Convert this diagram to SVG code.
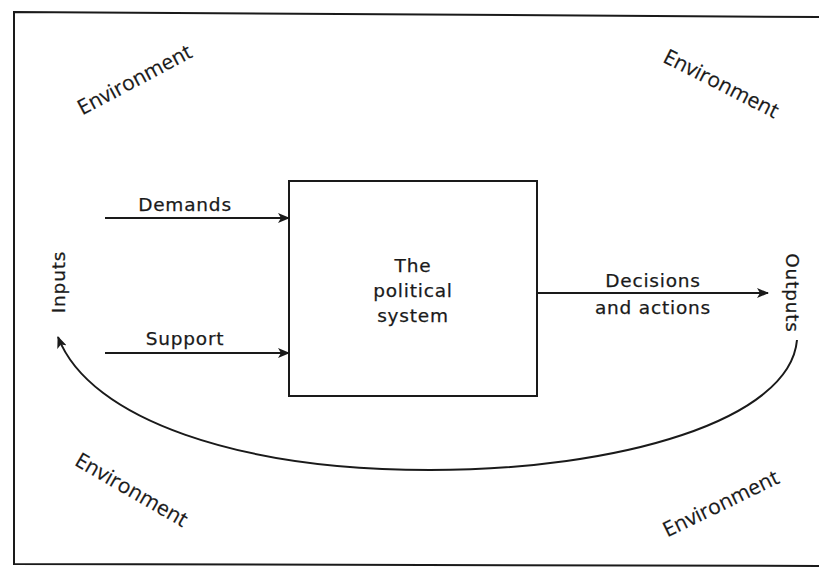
<svg xmlns="http://www.w3.org/2000/svg" width="819" height="570" viewBox="0 0 819 570">
  <style>
    .lbl { font-family: "DejaVu Sans", "Liberation Sans", sans-serif; font-size: 18.5px; fill: #1a1a1a; letter-spacing: 0.8px; stroke: #1a1a1a; stroke-width: 0.25px; }
    .env { font-family: "Open Sans", "Liberation Sans", sans-serif; font-size: 21px; fill: #1a1a1a; stroke: #1a1a1a; stroke-width: 0.2px; }
    .line { stroke: #1a1a1a; stroke-width: 2; fill: none; }
  </style>
  <defs>
    <marker id="arrow" viewBox="0 0 12 10" refX="11" refY="5" markerWidth="12" markerHeight="10" markerUnits="userSpaceOnUse" orient="auto">
      <path d="M0,0 L12,5 L0,10 L3,5 Z" fill="#1a1a1a"/>
    </marker>
  </defs>
  <rect width="819" height="570" fill="#fff"/>

  <!-- outer environment frame (open on the right) -->
  <g id="frame">
    <path class="line" d="M819,17 L14,12 L14,564 L819,566"/>
  </g>

  <g id="environment-labels">
    <text class="env" text-anchor="middle" transform="translate(138,86) rotate(-28)">Environment</text>
    <text class="env" text-anchor="middle" transform="translate(718,90) rotate(27)">Environment</text>
    <text class="env" text-anchor="middle" transform="translate(128,496) rotate(30)">Environment</text>
    <text class="env" text-anchor="middle" transform="translate(724,510) rotate(-26)">Environment</text>
  </g>

  <g id="political-system">
    <rect x="289" y="181" width="248" height="215" fill="#fff" stroke="#1a1a1a" stroke-width="2"/>
    <text class="lbl" text-anchor="middle" x="413" y="272">The</text>
    <text class="lbl" text-anchor="middle" x="413" y="297">political</text>
    <text class="lbl" text-anchor="middle" x="413" y="322">system</text>
  </g>

  <g id="inputs">
    <text class="lbl" text-anchor="middle" transform="translate(65,282) rotate(-90)">Inputs</text>
  </g>

  <g id="outputs">
    <text class="lbl" text-anchor="middle" transform="translate(786,293) rotate(90)">Outputs</text>
  </g>

  <g id="connectors">
    <path class="line" d="M105,218 L289,218" marker-end="url(#arrow)"/>
    <path class="line" d="M105,353 L289,353" marker-end="url(#arrow)"/>
    <path class="line" d="M537,293 L768,293" marker-end="url(#arrow)"/>
    <path class="line" d="M797,340 C790,420 620,470 430,470 C240,470 90,420 58,337" marker-end="url(#arrow)"/>
  </g>

  <g id="connector-labels">
    <text class="lbl" text-anchor="middle" x="185" y="211">Demands</text>
    <text class="lbl" text-anchor="middle" x="185" y="345">Support</text>
    <text class="lbl" text-anchor="middle" x="653" y="287">Decisions</text>
    <text class="lbl" text-anchor="middle" x="653" y="314">and actions</text>
  </g>
</svg>
